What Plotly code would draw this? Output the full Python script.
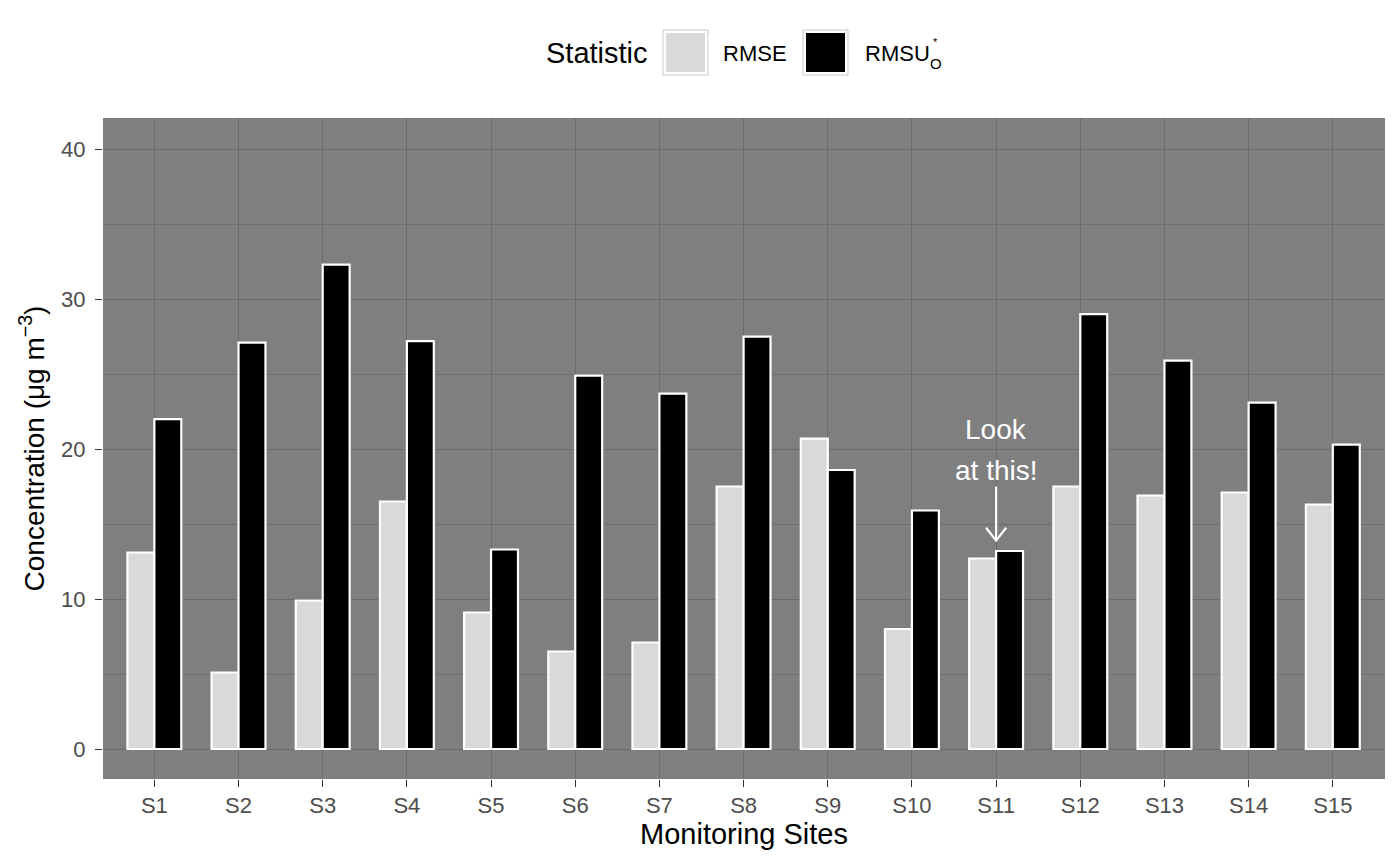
import plotly.graph_objects as go

sites = [f"S{i}" for i in range(1, 16)]
rmse = [13.1, 5.1, 9.9, 16.5, 9.1, 6.5, 7.1, 17.5, 20.7, 8.0, 12.7, 17.5, 16.9, 17.1, 16.3]
rmsu = [22.0, 27.1, 32.3, 27.2, 13.3, 24.9, 23.7, 27.5, 18.6, 15.9, 13.2, 29.0, 25.9, 23.1, 20.3]
series_names = ["RMSE", "RMSU"]
series_colors = ["#d9d9d9", "#000000"]
annot_site = "S11"
annot_lines = ["Look", "at this!"]

OFF = 8  # page body margin
W, H = 1400 - OFF, 865 - OFF
L, R, T, B = 103 - OFF, 1385 - OFF, 118 - OFF, 779 - OFF
FONT = "Liberation Sans, Arial, sans-serif"

def px(x):  # x in screen pixels
    return (x - OFF - L) / (R - L)

def py(y):
    return (B - (y - OFF)) / (B - T)

fig = go.Figure()
for name, vals, col in zip(series_names, [rmse, rmsu], series_colors):
    fig.add_trace(go.Bar(
        x=sites, y=vals, name=name,
        marker=dict(color=col, line=dict(color="white", width=2.2)),
        showlegend=False,
    ))

shapes = []
annotations = []

# custom legend
annotations.append(dict(xref="paper", yref="paper", x=px(544), y=py(53), text="Statistic",
                        showarrow=False, xanchor="left", yanchor="middle",
                        font=dict(family=FONT, size=29, color="black")))
for kx, col in [(663, series_colors[0]), (803, series_colors[1])]:
    shapes.append(dict(type="rect", xref="paper", yref="paper",
                       x0=px(kx), x1=px(kx + 45), y0=py(75), y1=py(30),
                       fillcolor="white", line=dict(color="#c8c8c8", width=1)))
    shapes.append(dict(type="rect", xref="paper", yref="paper",
                       x0=px(kx + 3), x1=px(kx + 42), y0=py(72), y1=py(33),
                       fillcolor=col, line=dict(width=0)))
annotations.append(dict(xref="paper", yref="paper", x=px(721), y=py(54), text="RMSE",
                        showarrow=False, xanchor="left", yanchor="middle",
                        font=dict(family=FONT, size=22, color="black")))
annotations.append(dict(xref="paper", yref="paper", x=px(863), y=py(54), text="RMSU",
                        showarrow=False, xanchor="left", yanchor="middle",
                        font=dict(family=FONT, size=22, color="black")))
annotations.append(dict(xref="paper", yref="paper", x=px(928), y=py(63), text="O",
                        showarrow=False, xanchor="left", yanchor="middle",
                        font=dict(family=FONT, size=15, color="black")))
annotations.append(dict(xref="paper", yref="paper", x=px(931), y=py(42), text="*",
                        showarrow=False, xanchor="left", yanchor="middle",
                        font=dict(family=FONT, size=11, color="black")))

# "Look at this!" annotation
idx = sites.index(annot_site)
for line_text, yv in zip(annot_lines, [21.3, 18.6]):
    annotations.append(dict(xref="x", yref="y", x=annot_site, y=yv, text=line_text,
                            showarrow=False, xanchor="center", yanchor="middle",
                            font=dict(family=FONT, size=28, color="white")))
shapes.append(dict(type="line", xref="x", yref="y", x0=idx, x1=idx, y0=17.5, y1=13.9,
                   line=dict(color="white", width=2.2)))
shapes.append(dict(type="path", xref="x", yref="y",
                   path=f"M {idx-0.12},14.75 L {idx},13.9 L {idx+0.12},14.75",
                   line=dict(color="white", width=2.2)))

fig.update_layout(
    width=W, height=H,
    margin=dict(l=L, r=W - R, t=T, b=H - B, autoexpand=False),
    paper_bgcolor="white", plot_bgcolor="#7f7f7f",
    barmode="group", bargap=0.36, bargroupgap=0.0,
    font=dict(family=FONT),
    shapes=shapes, annotations=annotations,
    showlegend=False,
)
fig.update_xaxes(
    type="category", range=[-0.61, 14.62],
    showgrid=True, gridcolor="#6b6b6b", gridwidth=1,
    ticks="outside", ticklen=7, tickcolor="#333333", tickwidth=1,
    ticklabelstandoff=0,
    tickfont=dict(family=FONT, size=22, color="#4d4d4d"),
    title=dict(text="Monitoring Sites", font=dict(family=FONT, size=29, color="black"), standoff=3),
    showline=False, zeroline=False,
)
fig.update_yaxes(
    range=[-2.0, 42.07], tickvals=[0, 10, 20, 30, 40],
    showgrid=True, gridcolor="#6b6b6b", gridwidth=1,
    minor=dict(tickvals=[5, 15, 25, 35], showgrid=True, gridcolor="#6e6e6e", gridwidth=0.6, ticks=""),
    ticks="outside", ticklen=7, tickcolor="#333333", tickwidth=1,
    ticklabelstandoff=5,
    tickfont=dict(family=FONT, size=22, color="#4d4d4d"),
    title=dict(text="Concentration (μg m<sup>−3</sup>)", font=dict(family=FONT, size=28, color="black"), standoff=8),
    showline=False, zeroline=False,
)

fig.write_html("out.html")
